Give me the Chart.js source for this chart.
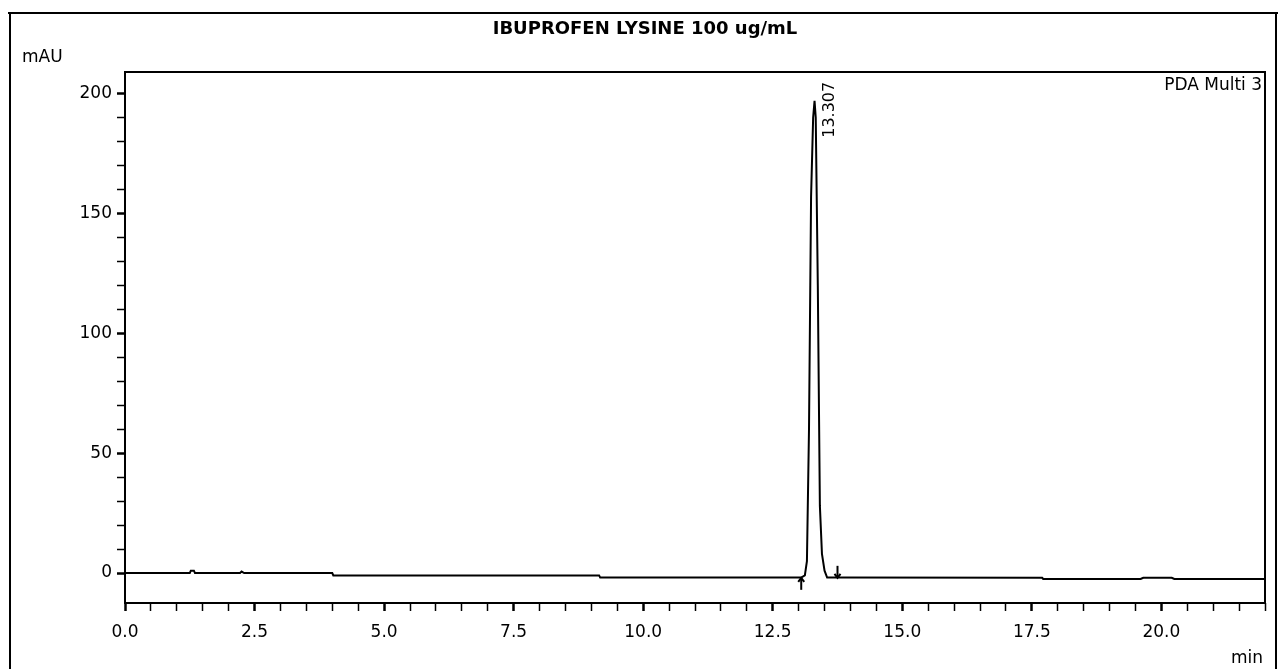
<!DOCTYPE html>
<html lang="en">

<head>
    <meta charset="UTF-8">
    <title>IBUPROFEN LYSINE 100 ug/mL</title>
    <script src="https://cdn.jsdelivr.net/npm/chart.js"></script>
    <style>
        body { margin: 0; background: #fff; }
    </style>
</head>

<body>
    <canvas id="myChart" width="1282" height="669"></canvas>
    <script>
        // chromatogram trace (min, mAU)
        const times = [0, 1.25, 1.27, 1.33, 1.35, 2.22, 2.25, 2.3, 4.0, 4.02, 9.15, 9.17, 12.9, 13.05, 13.12, 13.16, 13.2, 13.24, 13.28, 13.307, 13.33, 13.37, 13.41, 13.45, 13.5, 13.55, 13.75, 17.7, 17.72, 19.6, 19.65, 20.2, 20.25, 22];
        const mAU = [0, 0, 1, 1, 0, 0, 0.6, 0, 0, -1, -1, -1.9, -1.9, -1.9, -1, 5, 60, 157, 190, 197, 190, 120, 28, 8, 1, -1.9, -1.9, -2, -2.5, -2.5, -2, -2, -2.5, -2.5];

        const peakTimes = [13.307];
        const peakHeights = [197];
        const peakLabels = ['13.307'];

        // integration start / end marks
        const markTimes = [13.05, 13.75];
        const markDir = [-1, 1];

        const titleText = 'IBUPROFEN LYSINE 100 ug/mL';
        const channel = 'PDA Multi 3';
        const FONT = '"DejaVu Sans", "Liberation Sans", sans-serif';

        const points = times.map((t, i) => ({ x: t, y: mAU[i] }));

        const near = (v, s) => Math.abs(v / s - Math.round(v / s)) < 1e-6;

        const decor = {
            id: 'decor',
            afterDraw(chart) {
                const ctx = chart.ctx;
                const a = chart.chartArea;
                const xs = chart.scales.x, ys = chart.scales.y;
                ctx.save();
                // outer frame
                ctx.strokeStyle = '#000';
                ctx.lineWidth = 2;
                ctx.beginPath();
                ctx.moveTo(8, 13); ctx.lineTo(1278, 13);
                ctx.moveTo(10, 13); ctx.lineTo(10, 669);
                ctx.moveTo(1276, 13); ctx.lineTo(1276, 669);
                ctx.stroke();
                // plot box
                ctx.strokeRect(a.left, a.top, a.right - a.left, a.bottom - a.top);

                ctx.fillStyle = '#000';
                ctx.font = 'bold 18px ' + FONT;
                ctx.textAlign = 'center';
                ctx.textBaseline = 'middle';
                ctx.fillText(titleText, 645, 29);

                ctx.font = '17px ' + FONT;
                ctx.textAlign = 'left';
                ctx.fillText('mAU', 22, 58);
                ctx.textAlign = 'right';
                ctx.fillText('min', 1263, 659);
                ctx.fillText(channel, a.right - 3, a.top + 14);

                // peak labels
                ctx.font = '16px ' + FONT;
                peakTimes.forEach((t, i) => {
                    const px = xs.getPixelForValue(t) + 15;
                    const py = ys.getPixelForValue(peakHeights[i]) + 37;
                    ctx.save();
                    ctx.translate(px, py);
                    ctx.rotate(-Math.PI / 2);
                    ctx.textAlign = 'left';
                    ctx.textBaseline = 'middle';
                    ctx.fillText(peakLabels[i], 0, 0);
                    ctx.restore();
                });

                // start / end marks
                ctx.lineWidth = 2;
                markTimes.forEach((t, i) => {
                    const px = xs.getPixelForValue(t);
                    const y0 = ys.getPixelForValue(-2);
                    const y1 = y0 - markDir[i] * 12;
                    ctx.beginPath();
                    ctx.moveTo(px, y0); ctx.lineTo(px, y1);
                    ctx.stroke();
                    ctx.beginPath();
                    ctx.moveTo(px - 3, y0 - markDir[i] * 4);
                    ctx.lineTo(px, y0);
                    ctx.lineTo(px + 3, y0 - markDir[i] * 4);
                    ctx.stroke();
                });
                ctx.restore();
            }
        };

        const data = {
            datasets: [{
                label: channel,
                data: points,
                borderColor: '#000',
                borderWidth: 2,
                pointRadius: 0,
                tension: 0
            }]
        };

        const config = {
            type: 'line',
            data,
            options: {
                responsive: false,
                animation: false,
                layout: { padding: { left: 0, right: 17, top: 72, bottom: 0 } },
                plugins: { legend: { display: false }, tooltip: { enabled: false } },
                scales: {
                    x: {
                        type: 'linear',
                        min: 0,
                        max: 22,
                        afterFit(s) { s.height = 66; },
                        border: { display: false },
                        grid: {
                            drawOnChartArea: false,
                            tickLength: 8,
                            tickColor: '#000',
                            tickWidth: c => near(c.tick.value, 2.5) ? 2.5 : 1.5
                        },
                        ticks: {
                            stepSize: 0.5,
                            autoSkip: false,
                            maxRotation: 0,
                            padding: 11,
                            color: '#000',
                            font: { family: FONT, size: 17 },
                            callback: v => near(v, 2.5) ? v.toFixed(1) : ''
                        }
                    },
                    y: {
                        min: -12.5,
                        max: 209,
                        afterFit(s) { s.width = 125; },
                        border: { display: false },
                        grid: {
                            drawOnChartArea: false,
                            tickLength: 8,
                            tickColor: '#000',
                            tickWidth: c => near(c.tick.value, 50) ? 2.5 : 1.5
                        },
                        ticks: {
                            stepSize: 10,
                            padding: 5,
                            color: '#000',
                            font: { family: FONT, size: 17 },
                            callback: v => !near(v, 10) ? null : (near(v, 50) ? String(v) : '')
                        }
                    }
                }
            },
            plugins: [decor]
        };

        var myChart = new Chart(document.getElementById('myChart'), config);
    </script>
</body>

</html>
